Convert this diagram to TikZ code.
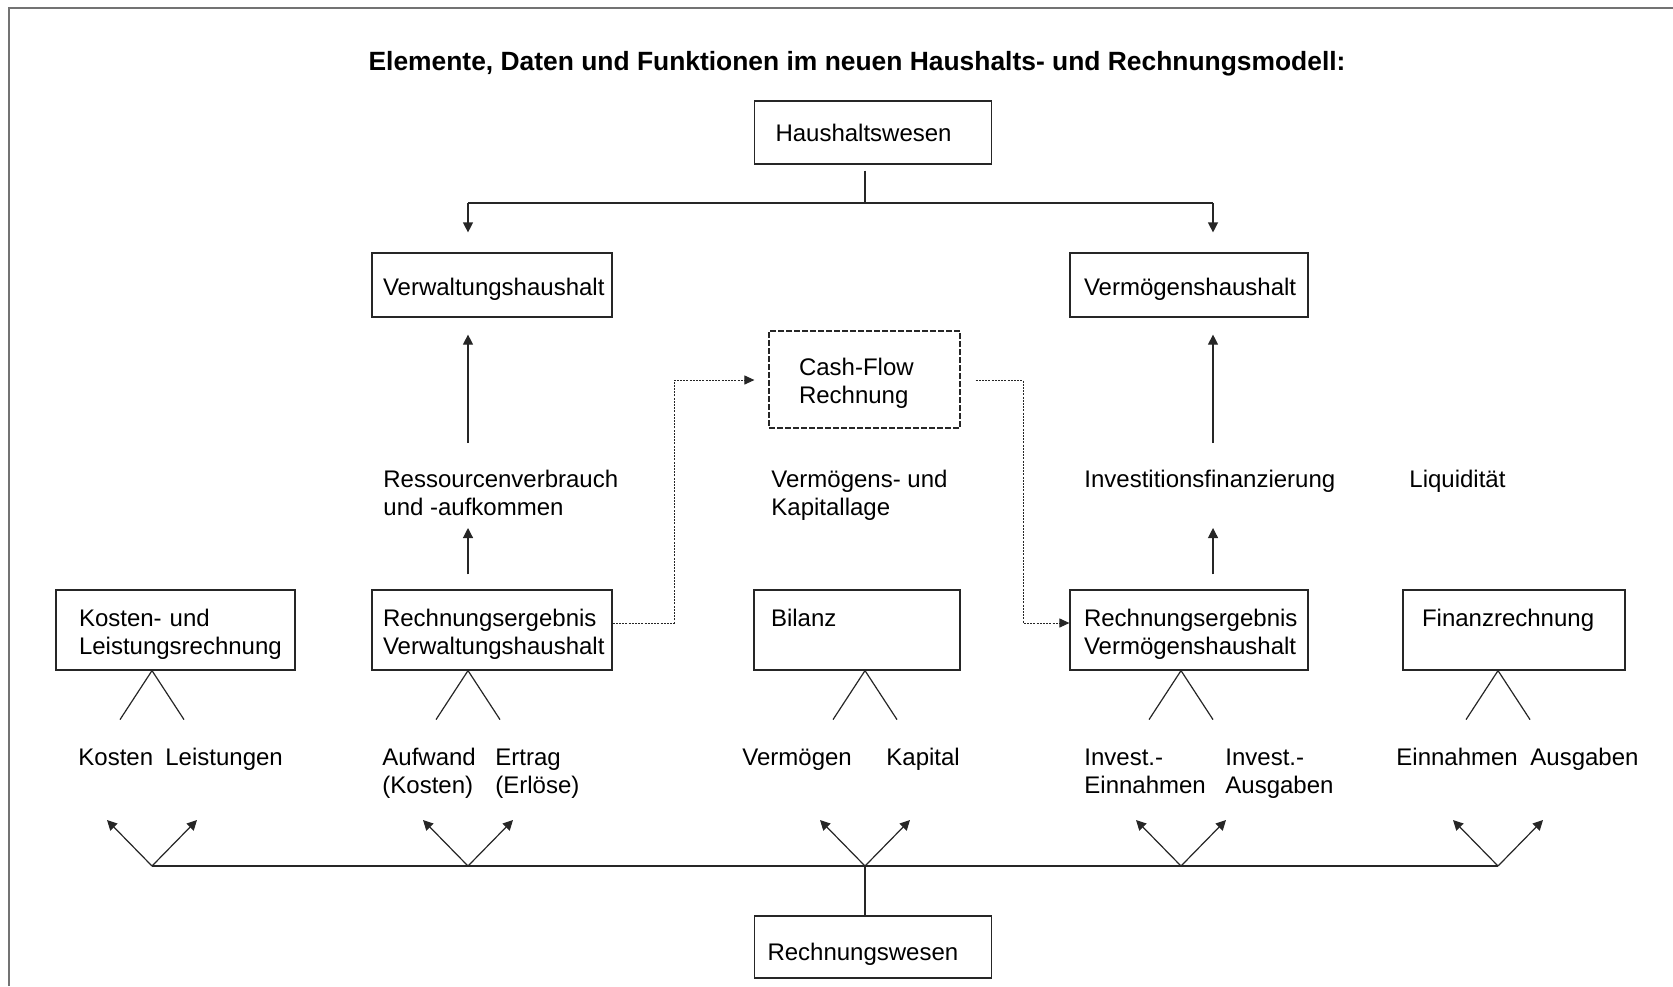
\documentclass[tikz,border=0pt]{standalone}
\usepackage{fontspec}
\setmainfont{Liberation Sans}
\usetikzlibrary{arrows.meta}
\hfuzz=50pt
\hbadness=10000
\hyphenpenalty=10000
\exhyphenpenalty=10000
\newcommand\dfont{\fontsize{12}{14}\selectfont}
\begin{document}
\begin{tikzpicture}[x=0.5pt,y=-0.5pt,
  box/.style={draw=black!85, line width=0.6pt, align=left, inner ysep=0pt, font=\dfont, text height=14pt},
  cfbox/.style={draw=black!85, line width=0.6pt, dash pattern=on 3pt off 1pt, align=left, inner ysep=0pt, font=\dfont, text height=14pt},
  lbl/.style={inner sep=0pt, anchor=base west, align=left, font=\dfont},
  conn/.style={draw=black!85, line width=0.6pt},
  arr/.style={conn, -{Triangle[length=5pt,width=5pt]}},
  dotarr/.style={draw=black!85, line width=0.5pt, dash pattern=on 1pt off 0.6pt, -{Triangle[length=5pt,width=4.5pt]}}
]
\useasboundingbox (0,0) rectangle (1673,986);
% frame
\draw[black!55, line width=1pt] (9,986) -- (9,8) -- (1673,8);

% title
\node[font=\fontsize{13.2}{16}\selectfont\bfseries] (title) at (857,64)
  {Elemente, Daten und Funktionen im neuen Haushalts- und Rechnungsmodell:};

% boxes
\node[box, text width=97.5pt, inner xsep=10.5pt, minimum height=31.5pt, text depth=5.5pt] (hw) at (873,132.5) {Haushaltswesen};
\node[box, text width=109pt, inner xsep=5.5pt, minimum height=32pt, text depth=4pt] (vwh) at (492,285) {Verwaltungshaushalt};
\node[box, text width=105pt, inner xsep=7pt, minimum height=32pt, text depth=4pt] (vmh) at (1189,285) {Vermögenshaushalt};
\node[cfbox, text width=65.5pt, inner xsep=15pt, minimum height=48.5pt, text depth=18.5pt] (cf) at (864.5,379.5) {Cash-Flow\\Rechnung};

\node[box, text width=96.5pt, inner xsep=11.5pt, minimum height=40pt, text depth=18pt] (klr) at (175.5,630) {Kosten- und\\Leistungsrechnung};
\node[box, text width=109pt, inner xsep=5.5pt, minimum height=40pt, text depth=18pt] (revw) at (492,630) {Rechnungsergebnis\\Verwaltungshaushalt};
\node[box, text width=86pt, inner xsep=8.5pt, minimum height=40pt, text depth=18pt] (bil) at (857,630) {Bilanz};
\node[box, text width=105pt, inner xsep=7pt, minimum height=40pt, text depth=18pt] (revm) at (1189,630) {Rechnungsergebnis\\Vermögenshaushalt};
\node[box, text width=92pt, inner xsep=9.5pt, minimum height=40pt, text depth=18pt] (fin) at (1514,630) {Finanzrechnung};

\node[box, text width=105.5pt, inner xsep=6.5pt, minimum height=31pt, text depth=1pt] (rw) at (873,947) {Rechnungswesen};

% middle labels (base = last line)
\node[lbl] (res) at (383,515) {Ressourcenverbrauch\\und -aufkommen};
\node[lbl] (vk) at (771,515) {Vermögens- und\\Kapitallage};
\node[lbl] (inv) at (1084,487) {Investitionsfinanzierung};
\node[lbl] (liq) at (1409,487) {Liquidität};

% lower labels
\node[lbl] (ko) at (78,765) {Kosten};
\node[lbl] (le) at (165,765) {Leistungen};
\node[lbl] (auf) at (382,793) {Aufwand\\(Kosten)};
\node[lbl] (ert) at (495,793) {Ertrag\\(Erlöse)};
\node[lbl] (ver) at (742,765) {Vermögen};
\node[lbl] (kap) at (886,765) {Kapital};
\node[lbl] (iein) at (1084,793) {Invest.-\\Einnahmen};
\node[lbl] (iaus) at (1225,793) {Invest.-\\Ausgaben};
\node[lbl] (ein) at (1396,765) {Einnahmen};
\node[lbl] (aus) at (1530,765) {Ausgaben};

% coordinates
\coordinate (hwj) at (865,203);
\coordinate (vL) at (468,203);
\coordinate (vR) at (1213,203);
\coordinate (a1) at (468,443);
\coordinate (a2t) at (468,528);
\coordinate (a3) at (1213,443);
\coordinate (a4t) at (1213,528);
\coordinate (d1) at (674,623);
\coordinate (d2) at (674,380);
\coordinate (d3) at (1023,380);
\coordinate (d4) at (1023,623);
\coordinate (f1) at (152,866);
\coordinate (f2) at (468,866);
\coordinate (f3) at (865,866);
\coordinate (f4) at (1181,866);
\coordinate (f5) at (1498,866);

% top tree
\draw[conn, shorten <=3pt] (hw.south -| hwj) -- (hwj);
\draw[conn] (vL) -- (vR);
\draw[arr, shorten >=10pt] (vL) -- (vL |- vwh.north);
\draw[arr, shorten >=10pt] (vR) -- (vR |- vmh.north);

% upward arrows
\draw[arr, shorten >=8.5pt] (a1) -- (a1 |- vwh.south);
\draw[arr, shorten <=7.5pt] (revw.north -| a2t) -- (a2t);
\draw[arr, shorten >=8.5pt] (a3) -- (a3 |- vmh.south);
\draw[arr, shorten <=7.5pt] (revm.north -| a4t) -- (a4t);

% dotted cash-flow connectors
\draw[dotarr, shorten >=7pt] (revw.east |- d1) -- (d1) -- (d2) -- (cf.west |- d2);
\draw[dotarr, shorten <=7.5pt] (cf.east |- d3) -- (d3) -- (d4) -- (revm.west |- d4);

% lambda branches
\draw[conn] (klr.south -| f1) ++(-32,49) -- (klr.south -| f1) -- ++(32,49);
\draw[conn] (revw.south -| f2) ++(-32,49) -- (revw.south -| f2) -- ++(32,49);
\draw[conn] (bil.south -| f3) ++(-32,49) -- (bil.south -| f3) -- ++(32,49);
\draw[conn] (revm.south -| f4) ++(-32,49) -- (revm.south -| f4) -- ++(32,49);
\draw[conn] (fin.south -| f5) ++(-32,49) -- (fin.south -| f5) -- ++(32,49);

% bottom tree
\draw[conn] (f1) -- (f5);
\draw[conn] (rw.north -| f3) -- (f3);
\foreach \f in {f1,f2,f3,f4,f5}{
  \draw[arr] (\f) -- ++(-45,-46);
  \draw[arr] (\f) -- ++(45,-46);
}
\end{tikzpicture}
\end{document}
